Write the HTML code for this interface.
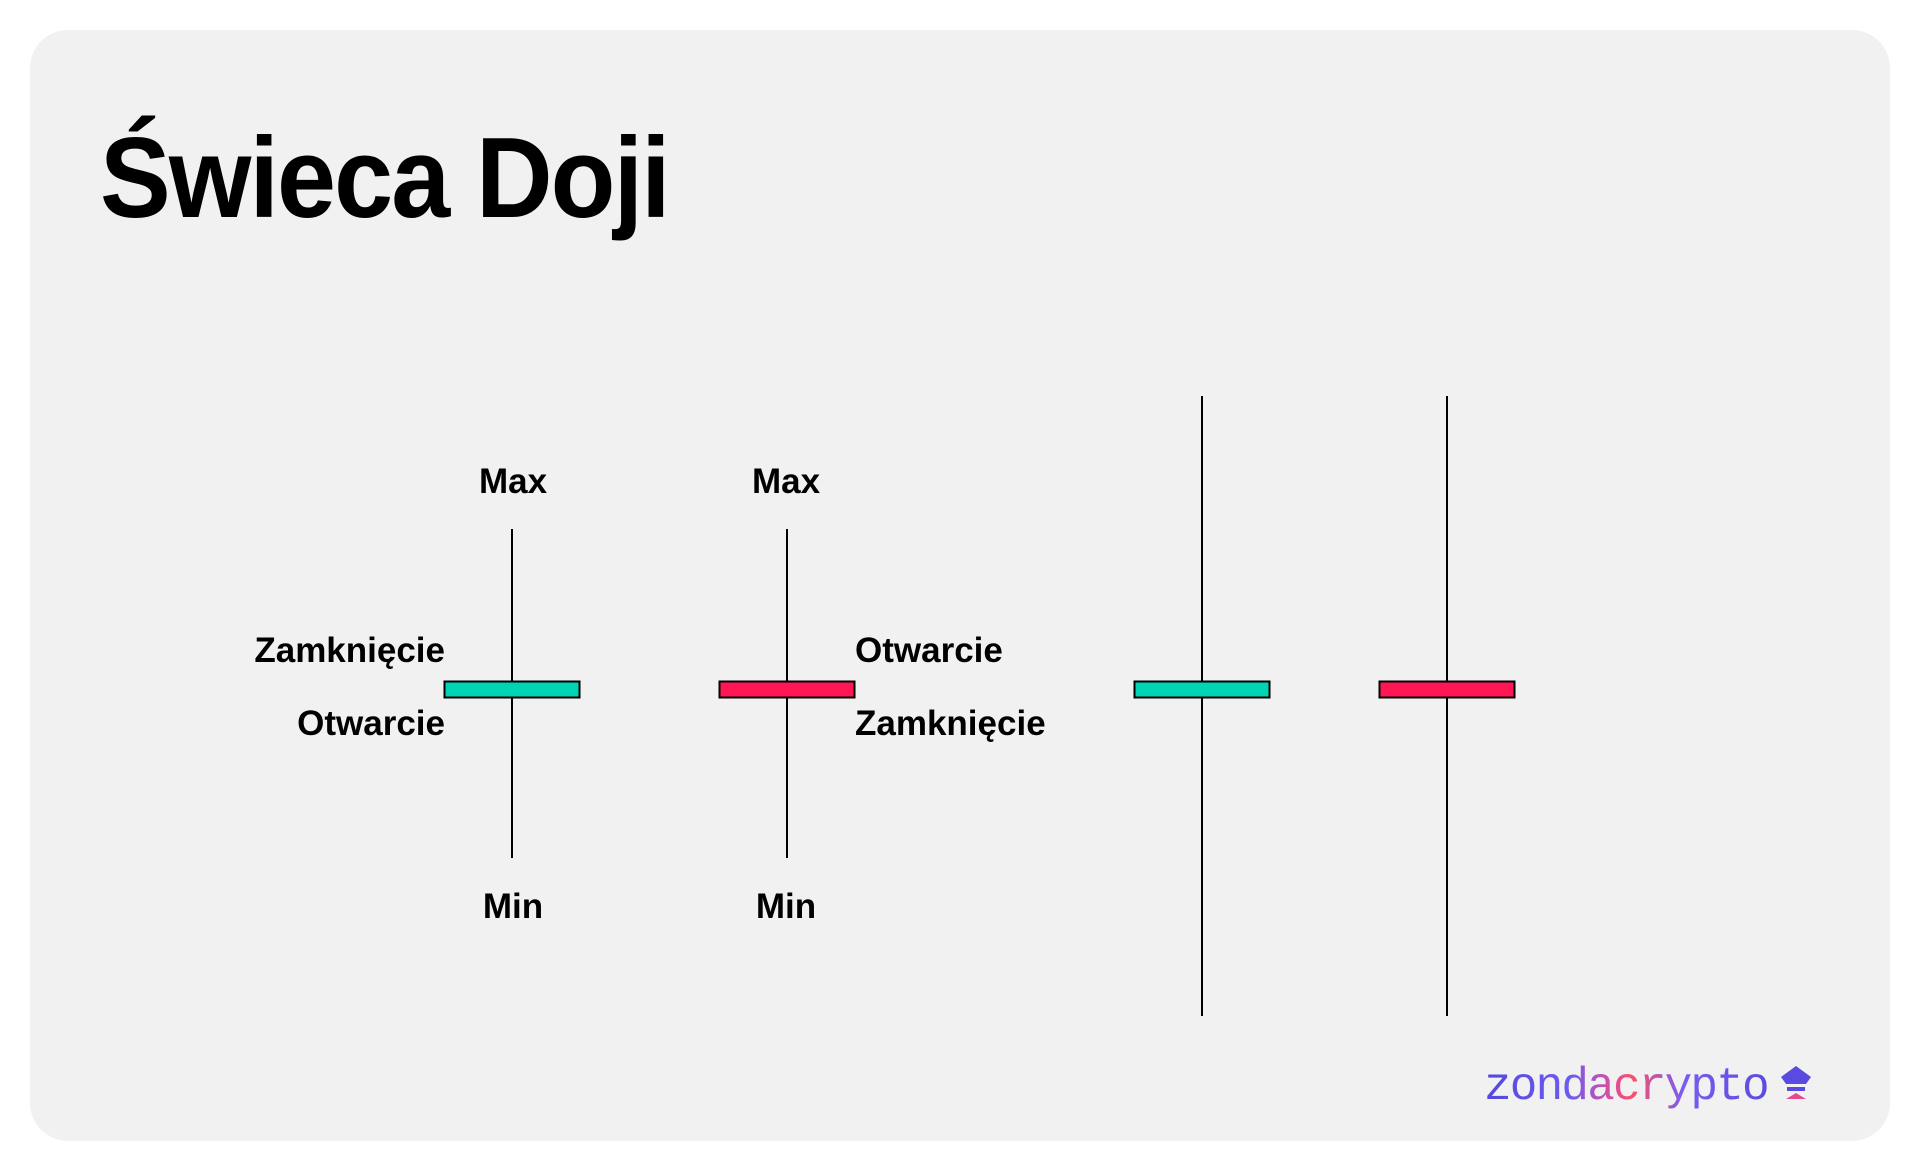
<!DOCTYPE html>
<html><head><meta charset="utf-8"><style>
html,body{margin:0;padding:0;background:#fff;width:1920px;height:1173px;overflow:hidden}
.card{position:absolute;left:30px;top:30px;width:1860px;height:1111px;background:#f1f1f1;border-radius:38px}
.t{position:absolute;font-family:"Liberation Sans",sans-serif;color:#000;white-space:nowrap}
.title{left:100px;top:122px;font-size:114px;font-weight:bold;letter-spacing:-2px;line-height:1;transform:scaleX(0.93);transform-origin:0 0}
.lbl{font-size:35px;font-weight:bold;line-height:1}
.logo{position:absolute;left:1484px;top:1064px;font-family:"Liberation Mono",monospace;font-size:46px;letter-spacing:-1.8px;background:linear-gradient(90deg,#5547dc 0%,#6a5cf0 30%,#d84fa0 45%,#ff4d6d 52%,#7a5cf0 70%,#5a4be0 100%);-webkit-background-clip:text;background-clip:text;color:transparent;line-height:1}
</style></head><body>
<div class="card"></div>
<div class="t title">Świeca Doji</div>
<svg width="1920" height="1173" style="position:absolute;left:0;top:0">
<g stroke="#000" stroke-width="2">
<line x1="512" y1="529" x2="512" y2="858"/>
<line x1="787" y1="529" x2="787" y2="858"/>
<line x1="1202" y1="396" x2="1202" y2="1016"/>
<line x1="1447" y1="396" x2="1447" y2="1016"/>
<rect x="444.5" y="681.5" width="135" height="16" fill="#00d4b4"/>
<rect x="719.5" y="681.5" width="135" height="16" fill="#ff1654"/>
<rect x="1134.5" y="681.5" width="135" height="16" fill="#00d4b4"/>
<rect x="1379.5" y="681.5" width="135" height="16" fill="#ff1654"/>
</g>
<g fill="#5a4be0"><path d="M1796 1066 l15 11 -5 7 h-20 l-5 -7z"/><rect x="1787" y="1087" width="18" height="4"/><path d="M1786 1099 h20 l-10 -6z" fill="#e84a90"/></g>
</svg>
<div class="t lbl" style="left:513px;top:464px;transform:translateX(-50%)">Max</div>
<div class="t lbl" style="left:786px;top:464px;transform:translateX(-50%)">Max</div>
<div class="t lbl" style="left:513px;top:889px;transform:translateX(-50%)">Min</div>
<div class="t lbl" style="left:786px;top:889px;transform:translateX(-50%)">Min</div>
<div class="t lbl" style="right:1475px;top:633px">Zamknięcie</div>
<div class="t lbl" style="right:1475px;top:706px">Otwarcie</div>
<div class="t lbl" style="left:855px;top:633px">Otwarcie</div>
<div class="t lbl" style="left:855px;top:706px">Zamknięcie</div>
<div class="logo">zondacrypto</div>
</body></html>
